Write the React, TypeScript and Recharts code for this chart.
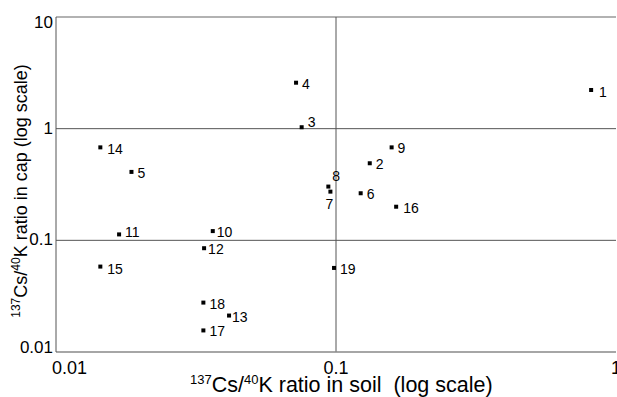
import React from 'react';
import { ScatterChart, Scatter, XAxis, YAxis, ReferenceLine, Label } from 'recharts';

// sample numbers and their 137Cs/40K ratios (soil on x, cap on y)
const pointIds = ['1', '2', '3', '4', '5', '6', '7', '8', '9', '10', '11', '12', '13', '14', '15', '16', '17', '18', '19'];
const soilRatio = [0.815, 0.132, 0.0754, 0.072, 0.0186, 0.1225, 0.0955, 0.0939, 0.158, 0.0363, 0.0168, 0.0338, 0.0415, 0.0144, 0.0144, 0.164, 0.0336, 0.0336, 0.0984];
const capRatio = [2.22, 0.49, 1.03, 2.58, 0.41, 0.264, 0.273, 0.303, 0.68, 0.121, 0.113, 0.085, 0.0212, 0.68, 0.0582, 0.2, 0.0156, 0.0277, 0.0566];

const xTicks = [0.01, 0.1, 1];
const yTicks = [0.01, 0.1, 1, 10];
const xTickLabels = ['0.01', '0.1', '1'];
const yTickLabels = ['0.01', '0.1', '1', '10'];

const FONT = 'Liberation Sans, Arial, sans-serif';

// label offsets from the marker centre [dx, baseline dy]
const labelNudge: Record<string, [number, number]> = {
  '1': [8, 7],
  '3': [6, 0],
  '7': [-5, 17],
  '8': [4, -6],
  '11': [6, 3],
  '12': [4, 6],
  '10': [4, 6],
  '13': [3, 6],
  '15': [7, 7],
  '14': [7, 7],
  '16': [7, 6],
};

const data = pointIds.map((id, i) => ({ id, x: soilRatio[i], y: capRatio[i] }));

const PointMark = (props: any) => {
  const { cx, cy, payload } = props;
  const [dx, dy] = labelNudge[payload.id] || [6, 6];
  return (
    <g>
      <rect x={cx - 2} y={cy - 2} width={4} height={4} fill="#000" />
      <text x={cx + dx} y={cy + dy} fontSize={14} fontFamily={FONT} fill="#000">
        {payload.id}
      </text>
    </g>
  );
};

const XTick = (props: any) => {
  const { x, payload } = props;
  const idx = xTicks.indexOf(payload.value);
  const first = idx === 0;
  return (
    <text x={first ? x - 4 : x} y={374} textAnchor={first ? 'start' : 'middle'} fontSize={18} fontFamily={FONT} fill="#000">
      {xTickLabels[idx]}
    </text>
  );
};

const YTick = (props: any) => {
  const { y, payload } = props;
  const idx = yTicks.indexOf(payload.value);
  const base = Math.min(Math.max(y + 5, 28), 353);
  return (
    <text x={53} y={base} textAnchor="end" fontSize={17} fontFamily={FONT} fill="#000">
      {yTickLabels[idx]}
    </text>
  );
};

const XTitle = () => (
  <text x={190} y={392} fontSize={21.5} fontFamily={FONT} fill="#000" style={{ whiteSpace: 'pre' }}>
    <tspan fontSize={13} dy={-8}>137</tspan>
    <tspan dy={8}>Cs/</tspan>
    <tspan fontSize={13} dy={-8}>40</tspan>
    <tspan dy={8}>{'K ratio in soil  (log scale)'}</tspan>
  </text>
);

const YTitle = () => (
  <text transform="translate(27,191) rotate(-90)" textAnchor="middle" fontSize={18} fontFamily={FONT} fill="#000">
    <tspan fontSize={12} dy={-7}>137</tspan>
    <tspan dy={7}>Cs/</tspan>
    <tspan fontSize={12} dy={-7}>40</tspan>
    <tspan dy={7}>K ratio in cap (log scale)</tspan>
  </text>
);

export default function App() {
  return (
    <div style={{ width: 617, height: 397, background: '#fff' }}>
      <style>{'body{margin:0}'}</style>
      <ScatterChart width={617} height={397} margin={{ top: 17, right: 1, left: 0, bottom: 0 }}>
        <XAxis
          type="number"
          dataKey="x"
          scale="log"
          domain={[0.01, 1]}
          ticks={xTicks}
          allowDataOverflow
          height={45}
          tickLine={false}
          axisLine={{ stroke: '#888', strokeWidth: 1.5 }}
          tick={<XTick />}
          interval={0}
        >
          <Label content={<XTitle />} />
        </XAxis>
        <YAxis
          type="number"
          dataKey="y"
          scale="log"
          domain={[0.01, 10]}
          ticks={yTicks}
          allowDataOverflow
          width={56}
          tickLine={false}
          axisLine={{ stroke: '#555' }}
          tick={<YTick />}
          interval={0}
        >
          <Label content={<YTitle />} />
        </YAxis>
        <ReferenceLine y={10} stroke="#999" strokeWidth={1.5} />
        <ReferenceLine y={1} stroke="#555" />
        <ReferenceLine y={0.1} stroke="#555" />
        <ReferenceLine x={0.1} stroke="#555" />
        <Scatter data={data} shape={<PointMark />} isAnimationActive={false} />
      </ScatterChart>
    </div>
  );
}
